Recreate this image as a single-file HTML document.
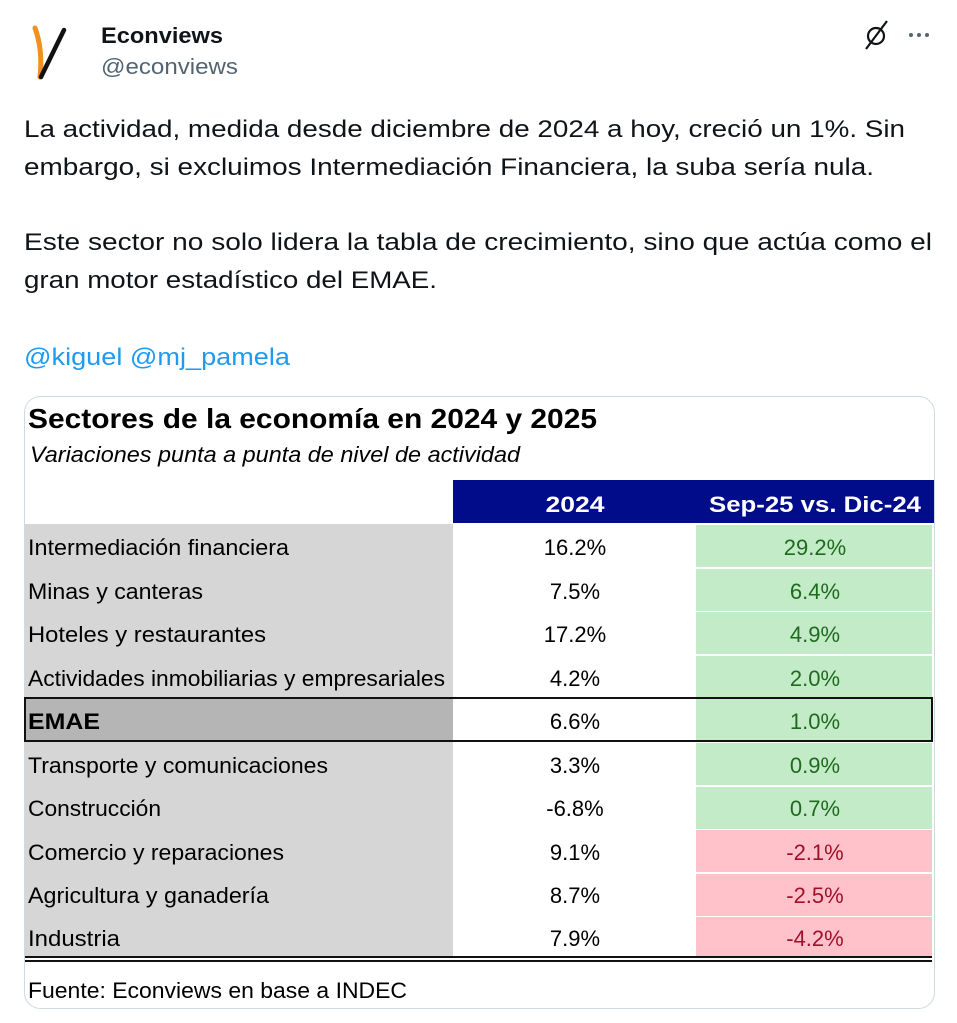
<!DOCTYPE html>
<html><head><meta charset="utf-8"><style>
html,body{margin:0;padding:0;background:#fff;}
svg{display:block;}
</style></head><body>
<svg width="957" height="1023" viewBox="0 0 957 1023" xmlns="http://www.w3.org/2000/svg" font-family="Liberation Sans, sans-serif">
<!-- avatar -->
<path d="M35 28 Q43 50 40 77" stroke="#f0901e" stroke-width="5" fill="none" stroke-linecap="round"/>
<path d="M41 77 L64 30" stroke="#111" stroke-width="4.5" fill="none" stroke-linecap="round"/>
<text x="101" y="43" font-size="22" font-weight="bold" fill="#0f1419" textLength="122" lengthAdjust="spacingAndGlyphs">Econviews</text>
<text x="101" y="74" font-size="22" fill="#536471" textLength="137" lengthAdjust="spacingAndGlyphs">@econviews</text>
<!-- grok icon & dots -->
<circle cx="876" cy="36" r="8" fill="none" stroke="#0f1419" stroke-width="2.2"/>
<path d="M866 49 L887 21" stroke="#0f1419" stroke-width="2.2"/>
<circle cx="911" cy="35" r="2" fill="#536471"/><circle cx="919" cy="35" r="2" fill="#536471"/><circle cx="927" cy="35" r="2" fill="#536471"/>
<!-- body text -->
<g font-size="24" fill="#0f1419">
<text x="24" y="137" textLength="881" lengthAdjust="spacingAndGlyphs">La actividad, medida desde diciembre de 2024 a hoy, creció un 1%. Sin</text>
<text x="24" y="175" textLength="850" lengthAdjust="spacingAndGlyphs">embargo, si excluimos Intermediación Financiera, la suba sería nula.</text>
<text x="24" y="250" textLength="908" lengthAdjust="spacingAndGlyphs">Este sector no solo lidera la tabla de crecimiento, sino que actúa como el</text>
<text x="24" y="288" textLength="413" lengthAdjust="spacingAndGlyphs">gran motor estadístico del EMAE.</text>
<text x="24" y="365" fill="#1d9bf0" textLength="266" lengthAdjust="spacingAndGlyphs">@kiguel @mj_pamela</text>
</g>
<!-- card -->
<rect x="24.5" y="396.5" width="910" height="612" rx="16" fill="#fff" stroke="#cfd9de"/>
<text x="28" y="428" font-size="28" font-weight="bold" fill="#000" textLength="569" lengthAdjust="spacingAndGlyphs">Sectores de la economía en 2024 y 2025</text>
<text x="30" y="462" font-size="22" font-style="italic" fill="#000" textLength="490" lengthAdjust="spacingAndGlyphs">Variaciones punta a punta de nivel de actividad</text>
<rect x="453" y="480" width="481" height="43" fill="#000c8a"/>
<text x="575" y="512" font-size="22" font-weight="bold" fill="#fff" text-anchor="middle" textLength="59" lengthAdjust="spacingAndGlyphs">2024</text>
<text x="815" y="512" font-size="22" font-weight="bold" fill="#fff" text-anchor="middle" textLength="212" lengthAdjust="spacingAndGlyphs">Sep-25 vs. Dic-24</text>
<!-- label column -->
<rect x="25" y="524" width="428" height="432" fill="#d6d6d6"/>
<rect x="25" y="698" width="428" height="43" fill="#b5b5b5"/>
<!-- value cells -->
<g>
<rect x="696" y="525" width="236" height="42" fill="#c4ebc8"/>
<rect x="696" y="569" width="236" height="42" fill="#c4ebc8"/>
<rect x="696" y="612" width="236" height="42" fill="#c4ebc8"/>
<rect x="696" y="656" width="236" height="41" fill="#c4ebc8"/>
<rect x="696" y="699" width="236" height="41" fill="#c4ebc8"/>
<rect x="696" y="743" width="236" height="42" fill="#c4ebc8"/>
<rect x="696" y="787" width="236" height="42" fill="#c4ebc8"/>
<rect x="696" y="830" width="236" height="42" fill="#ffc2cb"/>
<rect x="696" y="874" width="236" height="42" fill="#ffc2cb"/>
<rect x="696" y="917" width="236" height="39" fill="#ffc2cb"/>
</g>
<!-- EMAE box -->
<rect x="25" y="698" width="907" height="43" fill="none" stroke="#111" stroke-width="2"/>
<!-- bottom double line -->
<rect x="25" y="956" width="907" height="2" fill="#111"/>
<rect x="25" y="960" width="907" height="2" fill="#111"/>
<g font-size="22" fill="#000">
<text x="28" y="555" textLength="261" lengthAdjust="spacingAndGlyphs">Intermediación financiera</text>
<text x="28" y="599" textLength="175" lengthAdjust="spacingAndGlyphs">Minas y canteras</text>
<text x="28" y="642" textLength="238" lengthAdjust="spacingAndGlyphs">Hoteles y restaurantes</text>
<text x="28" y="686" textLength="417" lengthAdjust="spacingAndGlyphs">Actividades inmobiliarias y empresariales</text>
<text x="28" y="729" font-weight="bold" textLength="72" lengthAdjust="spacingAndGlyphs">EMAE</text>
<text x="28" y="773" textLength="300" lengthAdjust="spacingAndGlyphs">Transporte y comunicaciones</text>
<text x="28" y="816" textLength="133" lengthAdjust="spacingAndGlyphs">Construcción</text>
<text x="28" y="860" textLength="256" lengthAdjust="spacingAndGlyphs">Comercio y reparaciones</text>
<text x="28" y="903" textLength="241" lengthAdjust="spacingAndGlyphs">Agricultura y ganadería</text>
<text x="28" y="946" textLength="92" lengthAdjust="spacingAndGlyphs">Industria</text>
<g text-anchor="middle">
<text x="575" y="555">16.2%</text>
<text x="575" y="599">7.5%</text>
<text x="575" y="642">17.2%</text>
<text x="575" y="686">4.2%</text>
<text x="575" y="729">6.6%</text>
<text x="575" y="773">3.3%</text>
<text x="575" y="816">-6.8%</text>
<text x="575" y="860">9.1%</text>
<text x="575" y="903">8.7%</text>
<text x="575" y="946">7.9%</text>
<g fill="#1e6b1e">
<text x="815" y="555">29.2%</text>
<text x="815" y="599">6.4%</text>
<text x="815" y="642">4.9%</text>
<text x="815" y="686">2.0%</text>
<text x="815" y="729">1.0%</text>
<text x="815" y="773">0.9%</text>
<text x="815" y="816">0.7%</text>
</g>
<g fill="#a0102a">
<text x="815" y="860">-2.1%</text>
<text x="815" y="903">-2.5%</text>
<text x="815" y="946">-4.2%</text>
</g>
</g>
<text x="28" y="998" textLength="379" lengthAdjust="spacingAndGlyphs">Fuente: Econviews en base a INDEC</text>
</g>
</svg>
</body></html>
